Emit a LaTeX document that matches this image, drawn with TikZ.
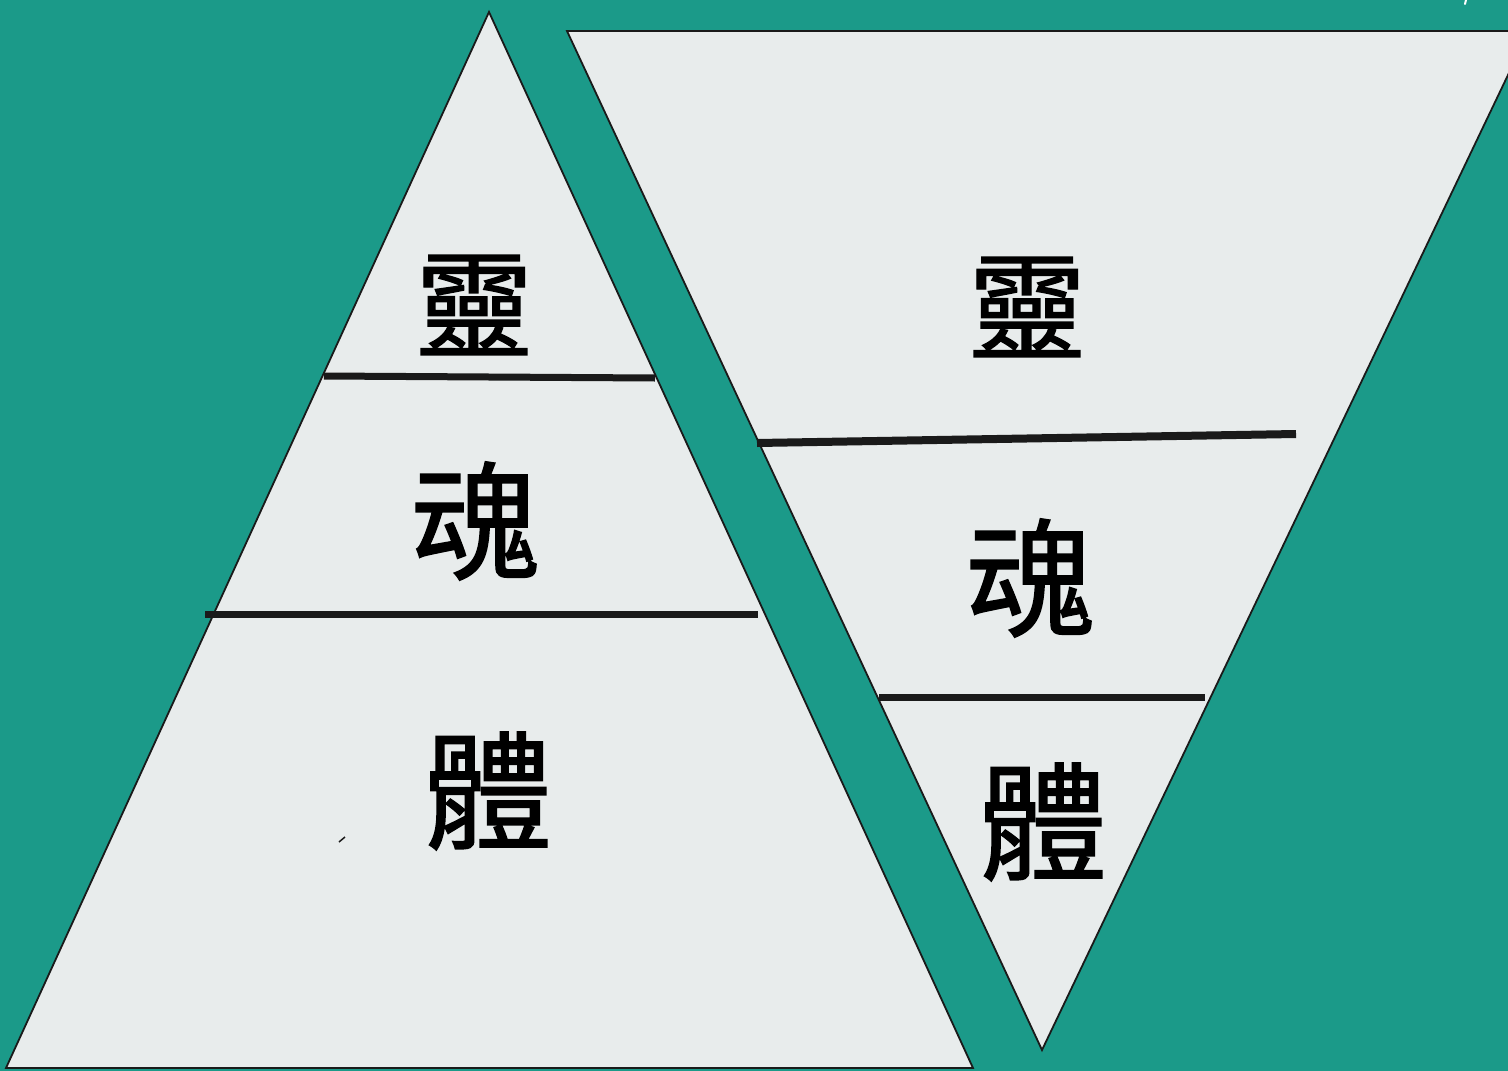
\documentclass[tikz,border=0pt]{standalone}
\usepackage{fontspec}
\newfontfamily\cjk[BoldFont=Noto Sans CJK TC,BoldFeatures={FakeBold=1.2}]{Noto Sans CJK TC}
\definecolor{teal1}{HTML}{1B9A89}
\definecolor{paper}{HTML}{E8ECEC}
\definecolor{ink}{HTML}{1A1A1A}
\begin{document}
\begin{tikzpicture}[x=1pt,y=-1pt,
  tri/.style={fill=paper,draw=ink,line width=1.8pt,line join=miter},
  divider/.style={draw=ink,line width=7pt},
  glyph/.style={font=\cjk\bfseries\fontsize{118}{118}\selectfont,inner sep=0pt,text=black},
  bigglyph/.style={glyph,font=\cjk\bfseries\fontsize{128}{128}\selectfont}]
\fill[teal1] (0,0) rectangle (1508,1071);
\useasboundingbox (0,0) rectangle (1508,1071);
\begin{scope}
\clip (0,0) rectangle (1508,1071);
% left upward triangle
\coordinate (LA) at (489,12);
\coordinate (LB) at (6,1068);
\coordinate (LC) at (973,1068);
\draw[tri] (LA) -- (LB) -- (LC) -- cycle;
% right inverted triangle
\coordinate (RA) at (567,31);
\coordinate (RB) at (1529,31);
\coordinate (RC) at (1042,1050);
\draw[tri] (RA) -- (RB) -- (RC) -- cycle;
\end{scope}
% dividers left
\coordinate (l1a) at (324,376);
\coordinate (l1b) at (655,378);
\coordinate (l2a) at (205,614);
\coordinate (l2b) at (758,614);
\draw[divider] (l1a) -- (l1b);
\draw[divider] (l2a) -- (l2b);
% dividers right
\coordinate (r1a) at (757,443);
\coordinate (r1b) at (1296,434);
\coordinate (r2a) at (879,697);
\coordinate (r2b) at (1205,697);
\draw[divider,line width=8pt] (r1a) -- (r1b);
\draw[divider] (r2a) -- (r2b);
% texts
\node[glyph] (ling1) at (474,305) {靈};
\node[bigglyph] (hun1) at (475,521) {魂};
\node[bigglyph] (ti1) at (488,791) {體};
\node[glyph] (ling2) at (1027,307) {靈};
\node[bigglyph] (hun2) at (1030,578) {魂};
\node[bigglyph] (ti2) at (1043,822) {體};
% stray marks
\coordinate (m1) at (339,842);
\coordinate (m2) at (345,837);
\draw[ink,line width=1.5pt] (m1) -- (m2);
\coordinate (w1) at (1466,0);
\coordinate (w2) at (1465,4);
\draw[white,line width=2pt,line cap=round] (w1) -- (w2);
\end{tikzpicture}
\end{document}
